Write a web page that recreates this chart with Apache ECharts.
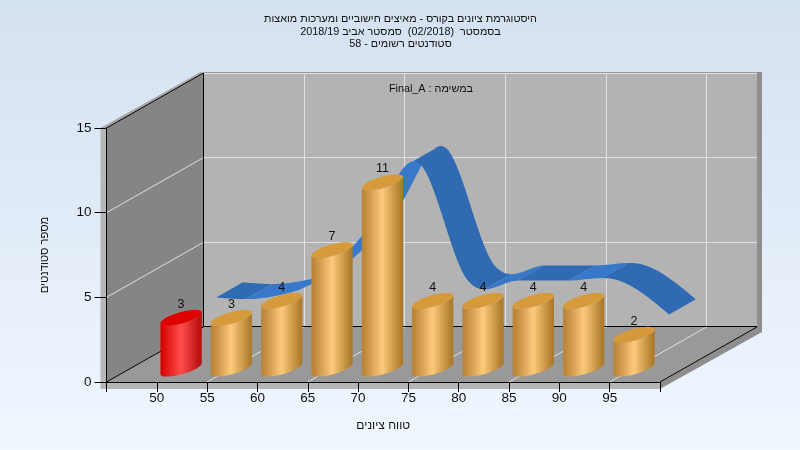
<!DOCTYPE html>
<html><head><meta charset="utf-8">
<style>html,body{margin:0;padding:0;background:#fff}#c{width:800px;height:450px}</style>
<script src="https://cdn.jsdelivr.net/npm/echarts@6/dist/echarts.min.js"></script>
</head><body><div id="c"></div>
<script>
const titleLines = ['היסטוגרמת ציונים בקורס - מאיצים חישוביים ומערכות מואצות','בסמסטר  (02/2018)  סמסטר אביב 2018/19','סטודנטים רשומים - 58'];
const subtitleText = 'Final_A : במשימה';
const xName = 'טווח ציונים';
const yName = 'מספר סטודנטים';
const grades = [50,55,60,65,70,75,80,85,90,95];
const counts = [3,3,4,7,11,4,4,4,4,2];
const curveCounts = [3,3,4,7,11,4,4,4,4,2];
const failBins = [50];

const FONT = '"Liberation Sans", Arial, sans-serif';
// depth projection expressed in axis units
const DX = 9.64, DY = 3.25;
const RX1 = 0.6125, RX2 = 0.8875, BAR_D = 0.243, BAR_SPAN = 0.29, BAR_W = 3, BAR_SHIFT = 0.07;
const XMIN = 45, XMAX = 100, YMAX = 15;

function P(api, x, v, d){ return api.coord([x + DX*d, v + DY*d]); }

function poly(points, fill){
  return {type:'polygon', silent:true, shape:{points}, style:{fill}};
}
function line(a, b, stroke, w){
  let [x1,y1]=a, [x2,y2]=b;
  if (Math.abs(y1-y2)<0.01){ y1=y2=Math.floor(y1)+0.5; }
  if (Math.abs(x1-x2)<0.01){ x1=x2=Math.floor(x1)+0.5; }
  return {type:'line', silent:true, shape:{x1,y1,x2,y2}, style:{stroke, lineWidth:w||1}};
}

function renderWalls(params, api){
  const p = (x,v,d)=>P(api,x,v,d);
  const c = [];
  const fl = p(XMIN,0,0), fr = p(XMAX,0,0), bl = p(XMIN,0,1), br = p(XMAX,0,1);
  const tfl = p(XMIN,YMAX,0), tbl = p(XMIN,YMAX,1), tbr = p(XMAX,YMAX,1);
  const add = (q,dx,dy)=>[q[0]+dx,q[1]+dy];
  // outer thickness of the box
  c.push(poly([add(tfl,-6,0),add(tfl,0,0),add(fl,0,0),add(fr,0,0),add(fr,0,7),add(fl,-6,7)], '#b6b6b6'));
  c.push(poly([add(tfl,-6,0),add(tbl,-3,-1),tbl,tfl], '#a6a6a6'));
  c.push(poly([add(tbr,0,-1),add(tbr,5,-1),add(br,5,5),add(fr,0,7),fr,br], '#8e8e8e'));
  // walls
  c.push(poly([tbl,tbr,br,bl], '#b3b3b3'));
  c.push(poly([tfl,tbl,bl,fl], '#858585'));
  c.push(poly([fl,bl,br,fr], '#999999'));
  c.push(poly([add(tbl,0,-1),add(tbr,0,-1),add(tbr,0,1),add(tbl,0,1)], '#999999'));
  // grid
  const g = '#e0e0e0';
  for (const v of [5,10]) {
    c.push(line(p(XMIN,v,0),p(XMIN,v,1),g));
    c.push(line(p(XMIN,v,1),p(XMAX,v,1),g));
  }
  c.push(line(add(tbl,0,1),add(tbr,0,1),g));
  for (const x of [55,65,75,85,95]) {
    c.push(line(p(x,0,0),p(x,0,1),g));
    c.push(line(p(x,0,1),add(p(x,YMAX,1),0,1),g));
  }
  // frame
  const k = '#000';
  c.push(line(tfl,tbl,k)); c.push(line(tbl,bl,k)); c.push(line(bl,br,k));
  c.push(line(fl,bl,k)); c.push(line(fr,br,k));
  return {type:'group', children:c};
}

function tangent(vals, i){
  const n = vals.length-1;
  if (i>0 && i<n) return (vals[i+1]-vals[i-1])/2;
  if (i===0) return 1.5*(vals[1]-vals[0]) - 0.5*tangent(vals,1);
  return 1.5*(vals[n]-vals[n-1]) - 0.5*tangent(vals,n-1);
}
function curveAt(vals, i, t){
  const b = vals[i], c = vals[i+1], m0 = tangent(vals,i), m1 = tangent(vals,i+1);
  const t2=t*t, t3=t2*t;
  return (2*t3-3*t2+1)*b + (t3-2*t2+t)*m0 + (-2*t3+3*t2)*c + (t3-t2)*m1;
}

function renderRibbon(params, api){
  const N = 24, pts = [];
  for (let i=0;i<grades.length-1;i++){
    for (let j=0;j<(i===grades.length-2?N+1:N);j++){
      const t=j/N;
      pts.push([grades[i]+(grades[i+1]-grades[i])*t, curveAt(curveCounts,i,t)]);
    }
  }
  const runs=[]; let cur=null;
  for (let i=0;i<pts.length-1;i++){
    const up = pts[i+1][1]-pts[i][1] > 0.0005;
    if(!cur||cur.up!==up){ cur={up,from:i,to:i+1}; runs.push(cur);} else cur.to=i+1;
  }
  const c=[];
  for(const r of runs){
    const f=[],b=[];
    for(let i=r.from;i<=r.to;i++){
      f.push(P(api,pts[i][0],pts[i][1],RX1));
      b.unshift(P(api,pts[i][0],pts[i][1],RX2));
    }
    c.push(poly(f.concat(b), r.up?'#3878cb':'#2f6ab3'));
  }
  return {type:'group',children:c};
}

function renderBar(params, api){
  const x=api.value(0)+BAR_SHIFT, v=api.value(1);
  const fail = failBins.includes(api.value(0));
  const pal = fail
    ? {side:[[0,'#d00000'],[0.08,'#dc0a0a'],[0.5,'#ff4d4d'],[0.92,'#bc1414'],[1,'#b01010']], top:'#e00000'}
    : {side:[[0,'#b98436'],[0.08,'#c0893c'],[0.5,'#fdc97b'],[0.92,'#b3812f'],[1,'#a8772a']], top:'#d69a3b'};
  const ell=(val,from,to,n)=>{
    const out=[];
    for(let i=0;i<=n;i++){
      const a=from+(to-from)*i/n;
      out.push(P(api,x+BAR_W/2*Math.cos(a),val,BAR_D+BAR_SPAN/2*Math.sin(a)));
    }
    return out;
  };
  // angle of the ellipse's screen-left and screen-right extremes
  const a0 = Math.atan2(BAR_SPAN*DX, BAR_W);
  const side = ell(0,a0,a0-Math.PI,32).concat(ell(v,a0-Math.PI,a0,32));
  const fill = {type:'linear',x:0,y:0,x2:1,y2:0,colorStops:pal.side.map(s=>({offset:s[0],color:s[1]}))};
  const c=P(api,x,v,BAR_D);
  return {type:'group',children:[
    poly(side,fill),
    poly(ell(v,0,Math.PI*2,64),pal.top),
    {type:'text',silent:true,style:{text:String(v),x:c[0],y:c[1]-13.5,fill:'#111',font:'12.5px '+FONT,align:'center',verticalAlign:'middle'}}
  ]};
}

const barData = grades.map((g,i)=>[g,counts[i]]);
const chart = echarts.init(document.getElementById('c'),null,{renderer:'canvas',width:800,height:450});
chart.setOption({
  animation:false,
  backgroundColor:{type:'linear',x:0,y:0,x2:0,y2:1,colorStops:[{offset:0,color:'#d4e1f1'},{offset:1,color:'#f0f7ff'}]},
  textStyle:{fontFamily:FONT},
  title:[
    {text:titleLines.join('\n'),left:395.5,top:8,textAlign:'center',textStyle:{fontSize:10.8,fontWeight:'normal',color:'#111',lineHeight:12.5,fontFamily:FONT}},
    {text:subtitleText,left:426,top:79,textAlign:'center',textStyle:{fontSize:10.8,fontWeight:'normal',color:'#111',fontFamily:FONT}}
  ],
  grid:{left:106.5,width:553.5,top:128,height:254,containLabel:false},
  xAxis:{type:'value',min:XMIN,max:XMAX,interval:5,z:10,
    name:xName,nameLocation:'middle',nameGap:38,nameTextStyle:{fontSize:12,color:'#111'},
    axisLine:{show:true,lineStyle:{color:'#000'}},
    axisTick:{show:true,length:10,lineStyle:{color:'#000'}},
    splitLine:{show:false},
    axisLabel:{show:true,fontSize:13.5,color:'#111',margin:9,showMinLabel:true,showMaxLabel:true,
      formatter:v=>grades.includes(v)?String(v):''}},
  yAxis:{type:'value',min:0,max:YMAX,interval:5,z:10,
    name:yName,nameLocation:'middle',nameGap:56,nameRotate:90,nameTextStyle:{fontSize:11.2,color:'#111'},
    axisLine:{show:true,lineStyle:{color:'#000'}},
    axisTick:{show:true,length:12,lineStyle:{color:'#000'}},
    splitLine:{show:false},
    axisLabel:{show:true,fontSize:13.5,color:'#111',margin:15}},
  series:[
    {type:'custom',z:1,clip:false,silent:true,coordinateSystem:'cartesian2d',data:[[XMIN,0]],encode:{x:0,y:1},renderItem:renderWalls},
    {type:'custom',z:2,clip:false,silent:true,coordinateSystem:'cartesian2d',data:[[XMIN,0]],encode:{x:0,y:1},renderItem:renderRibbon},
    {type:'custom',z:3,clip:false,silent:true,coordinateSystem:'cartesian2d',data:barData,encode:{x:0,y:1},renderItem:renderBar}
  ]
});
</script></body></html>
